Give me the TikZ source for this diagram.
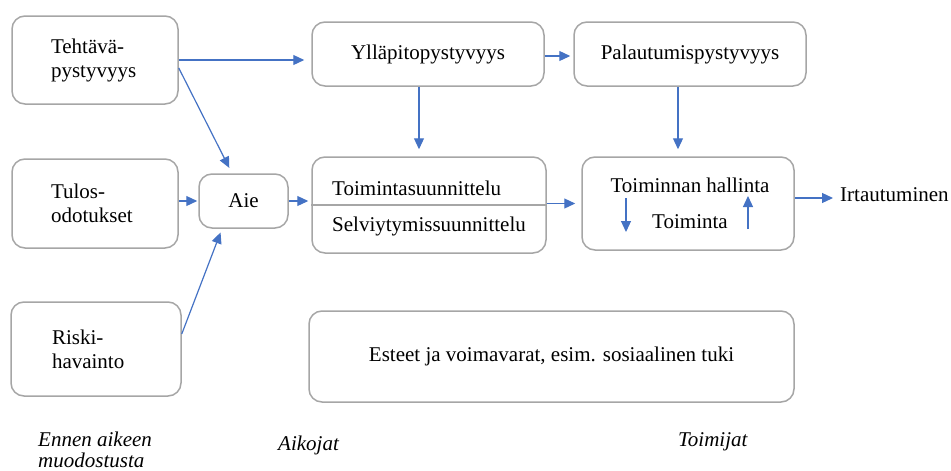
\documentclass[tikz,border=0pt]{standalone}
\usepackage{fontspec}
\setmainfont{Liberation Serif}
\usetikzlibrary{arrows.meta,calc}
\definecolor{boxgray}{HTML}{A6A6A6}
\definecolor{arrblue}{HTML}{4472C4}
\begin{document}
\begin{tikzpicture}[x=1pt,y=-1pt,
  box/.style={draw=boxgray, line width=1.5pt, rounded corners=13pt, inner sep=0pt, fill=white},
  txt/.style={inner sep=0pt, font=\fontsize{21}{24}\selectfont},
  arr/.style={draw=arrblue, line width=1.2pt, -{Triangle[length=11pt,width=10pt]}},
  lbl/.style={inner sep=0pt, font=\fontsize{21}{21}\selectfont\itshape, align=left, anchor=west}]
\useasboundingbox (0,0) rectangle (951,471);
% boxes
\node[box, txt, minimum width=166pt, minimum height=88pt, text width=88pt, align=left] (teht) at (95,60) {Tehtävä-\\pystyvyys};
\node[box, txt, minimum width=166pt, minimum height=89pt, text width=88pt, align=left] (tulos) at (95,203.5) {Tulos-\\odotukset};
\node[box, txt, minimum width=170pt, minimum height=94pt, text width=88pt, align=left] (riski) at (96,349) {Riski-\\havainto};
\node[box, txt, minimum width=89pt, minimum height=54pt] (aie) at (243.5,201) {Aie};
\node[box, txt, minimum width=232pt, minimum height=64pt] (yll) at (428,54) {Ylläpitopystyvyys};
\node[box, txt, minimum width=232pt, minimum height=64pt] (pal) at (690,54) {Palautumispystyvyys};
\node[box, minimum width=234pt, minimum height=96pt] (suun) at (429,205) {};
\draw[draw=boxgray, line width=1.3pt] (suun.west) -- (suun.east);
\node[txt, anchor=west] (ts) at (332,188) {Toimintasuunnittelu};
\node[txt, anchor=west] (ss) at (332,226) {Selviytymissuunnittelu};
\node[box, minimum width=212pt, minimum height=93pt] (hal) at (688,203.5) {};
\node[txt] (th) at (690,185) {Toiminnan hallinta};
\node[txt] (tm) at (690,222) {Toiminta};
\node[txt, anchor=west] (irt) at (840,195) {Irtautuminen};
\node[box, txt, minimum width=485pt, minimum height=91pt] (est) at (551.5,356.5) {Esteet ja voimavarat, esim. sosiaalinen tuki};
% labels
\node[lbl] (l1) at (38,449.5) {Ennen aikeen\\muodostusta};
\node[lbl] (l2) at (278,445) {Aikojat};
\node[lbl] (l3) at (678,442) {Toimijat};
% internal arrows
\coordinate (d1) at (626,198);
\coordinate (d2) at (626,232);
\coordinate (u1) at (748,229);
\coordinate (u2) at (748,196);
\draw[arr] (d1) -- (d2);
\draw[arr] (u1) -- (u2);
% connectors
\draw[arr, shorten >=7pt] (teht.east) -- (teht.east -| yll.west);
\draw[arr, shorten >=6pt] ($(teht.east)+(0,8)$) -- ($(aie.north)+(-11.5,0)$);
\draw[arr, shorten >=1pt] (aie.west -| tulos.east) -- (aie.west);
\draw[arr, shorten >=4pt] ($(riski.east)+(0,-15)$) -- ($(aie.south)+(-21.5,0)$);
\draw[arr, shorten >=3pt] (aie.east) -- (aie.east -| suun.west);
\draw[arr, shorten >=3pt] ($(yll.east)+(0,2)$) -- ($(pal.west)+(0,2)$);
\draw[arr, shorten >=7pt] ($(yll.south)+(-9,0)$) -- ($(suun.north)+(-10,0)$);
\draw[arr, shorten >=7pt] ($(pal.south)+(-12,0)$) -- ($(hal.north)+(-10,0)$);
\draw[arr, shorten >=6pt] (hal.west -| suun.east) -- (hal.west);
\draw[arr, shorten >=7pt] ($(hal.east)+(0,-5.5)$) -- ($(irt.west)+(0,3)$);
\end{tikzpicture}
\end{document}
